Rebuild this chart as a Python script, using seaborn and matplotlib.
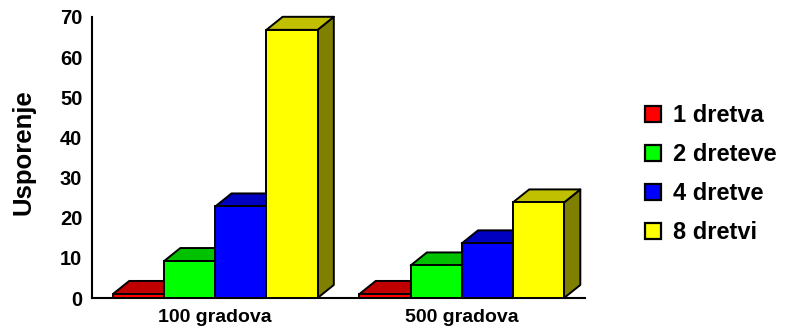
import numpy as np
import pandas as pd
import matplotlib
matplotlib.use("Agg")
import matplotlib.pyplot as plt
from matplotlib.patches import Polygon, Patch
import seaborn as sns

# Speedup per number of threads for two problem sizes
categories = ["100 gradova", "500 gradova"]
series = ["1 dretva", "2 dreteve", "4 dretve", "8 dretvi"]
speedup_100 = [1.0, 9.2, 22.8, 66.8]
speedup_500 = [1.0, 8.1, 13.6, 23.8]
y_ticks = [0, 10, 20, 30, 40, 50, 60, 70]

front_colors = ["#FF0000", "#00FF00", "#0000FF", "#FFFF00"]
top_colors = ["#C00000", "#00C000", "#0000C0", "#C0C000"]
side_colors = ["#800000", "#008000", "#000080", "#808000"]

rows = []
for cat, vals in zip(categories, [speedup_100, speedup_500]):
    for s, v in zip(series, vals):
        rows.append({"grad": cat, "dretve": s, "ubrzanje": v})
df = pd.DataFrame(rows)

sns.set_theme(style="white")
plt.rcParams["font.family"] = ["Liberation Sans", "DejaVu Sans"]
plt.rcParams["font.weight"] = "bold"
for key in ["text.color", "axes.labelcolor", "xtick.color", "ytick.color"]:
    plt.rcParams[key] = "black"

fig = plt.figure(figsize=(7.85, 3.29), dpi=100)
ax = fig.add_axes([92 / 785, 31 / 329, 493 / 785, 281 / 329])

lw = 1.4
sns.barplot(data=df, x="grad", y="ubrzanje", hue="dretve", hue_order=series,
            palette=front_colors, width=0.83, saturation=1, edgecolor="black",
            linewidth=lw, legend=False, ax=ax)

# 3D extrusion: top and side faces behind each front face
dx, dy = 0.066, 3.25
bars = sorted(ax.patches, key=lambda p: p.get_x())
color_of = {matplotlib.colors.to_hex(c): i for i, c in enumerate(front_colors)}
for k, p in enumerate(bars):
    x0, w, h = p.get_x(), p.get_width(), p.get_height()
    ci = color_of[matplotlib.colors.to_hex(p.get_facecolor())]
    base = 3 + 3 * k
    side = Polygon([(x0 + w, 0), (x0 + w + dx, dy), (x0 + w + dx, h + dy), (x0 + w, h)],
                   closed=True, facecolor=side_colors[ci], edgecolor="black",
                   linewidth=lw, joinstyle="round", zorder=base, clip_on=False)
    top = Polygon([(x0, h), (x0 + dx, h + dy), (x0 + w + dx, h + dy), (x0 + w, h)],
                  closed=True, facecolor=top_colors[ci], edgecolor="black",
                  linewidth=lw, joinstyle="round", zorder=base + 1, clip_on=False)
    ax.add_patch(side)
    ax.add_patch(top)
    p.set_zorder(base + 2)
    p.set_clip_on(False)

ax.set_xlim(-0.5, 1.5)
ax.set_ylim(0, 70)
ax.set_yticks(y_ticks)
ax.set_yticklabels([str(t) for t in y_ticks], fontsize=14.5, fontweight="bold")

# category boundaries as major ticks, names centred on minor ticks
ax.set_xticks([0.5, 1.5])
ax.set_xticklabels(["", ""])
ax.set_xticks([0, 1], minor=True)
ax.set_xticklabels(categories, minor=True, fontsize=14, fontweight="bold")
ax.tick_params(axis="x", which="major", direction="in", length=5, width=1.5, color="black")
ax.tick_params(axis="x", which="minor", length=0, pad=8)
ax.tick_params(axis="y", direction="out", length=4, width=1.5, color="black", pad=3)

ax.set_xlabel("")
ax.set_ylabel("Usporenje", fontsize=18.5, fontweight="bold")
ax.yaxis.set_label_coords(-0.115, 0.518)

for side_name in ["top", "right"]:
    ax.spines[side_name].set_visible(False)
for side_name in ["left", "bottom"]:
    ax.spines[side_name].set_color("black")
    ax.spines[side_name].set_linewidth(1.5)

handles = [Patch(facecolor=c, edgecolor="black", linewidth=1.6) for c in front_colors]
fig.legend(handles, series, loc="center left", bbox_to_anchor=(645 / 785, 0.47),
           frameon=False, handlelength=0.68, handleheight=0.68,
           handletextpad=0.5, labelspacing=0.68, borderpad=0, borderaxespad=0,
           prop={"weight": "bold", "size": 17})

fig.savefig("out.png", dpi=100)
